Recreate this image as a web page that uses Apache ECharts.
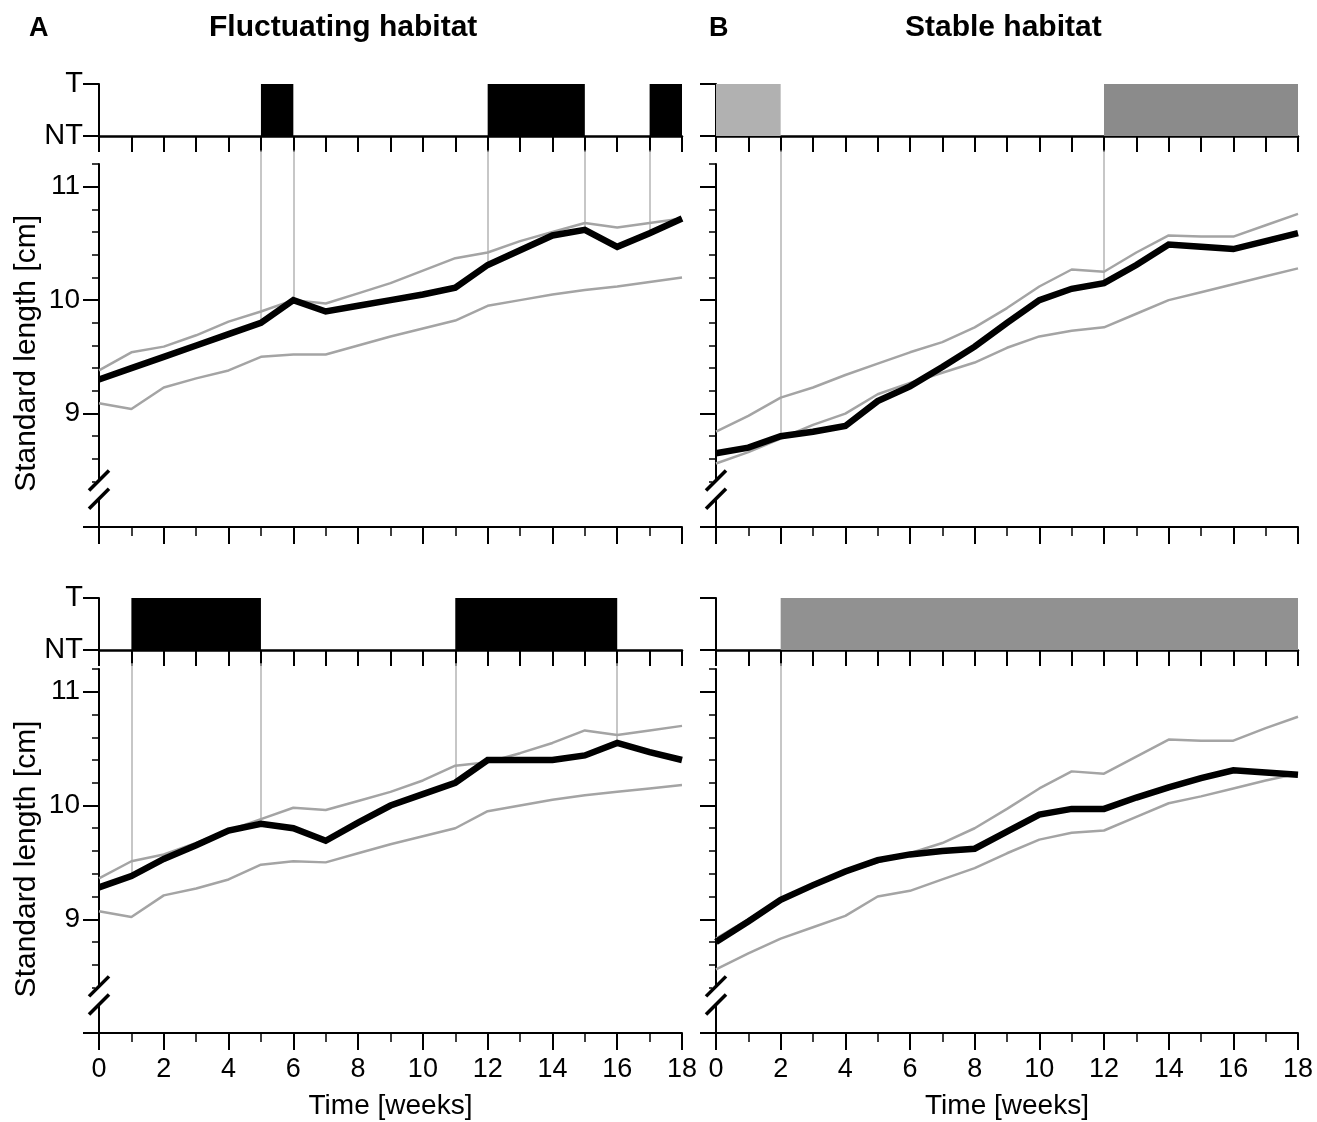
<!DOCTYPE html>
<html>
<head>
<meta charset="utf-8">
<script src="https://cdn.jsdelivr.net/npm/echarts@6/dist/echarts.min.js"></script>
<style>
  body { margin: 0; background: #fff; }
  #main { width: 1317px; height: 1122px; }
</style>
</head>
<body>
<div id="main"></div>
<script>
// weeks on the x axis
var weeks = [0, 1, 2, 3, 4, 5, 6, 7, 8, 9, 10, 11, 12, 13, 14, 15, 16, 17, 18];
var xTickLabels = [0, 2, 4, 6, 8, 10, 12, 14, 16, 18];
var yTickLabels = [9, 10, 11];
var yMajorTicks = [8, 9, 10, 11];
var yMinorTicks = [8.4, 8.6, 8.8, 9.2, 9.4, 9.6, 9.8, 10.2, 10.4, 10.6, 10.8, 11.2];

// A, top: fluctuating habitat
var tlMean  = [9.30, 9.40, 9.50, 9.60, 9.70, 9.80, 10.00, 9.90, 9.95, 10.00, 10.05, 10.11, 10.31, 10.44, 10.57, 10.62, 10.47, 10.59, 10.72];
var tlUpper = [9.38, 9.54, 9.59, 9.69, 9.81, 9.90, 10.00, 9.97, 10.06, 10.15, 10.26, 10.37, 10.42, 10.52, 10.60, 10.68, 10.64, 10.68, 10.72];
var tlLower = [9.09, 9.04, 9.23, 9.31, 9.38, 9.50, 9.52, 9.52, 9.60, 9.68, 9.75, 9.82, 9.95, 10.00, 10.05, 10.09, 10.12, 10.16, 10.20];
var tlBars  = [[5, 6], [12, 15], [17, 18]];

// A, bottom
var blMean  = [9.28, 9.38, 9.53, 9.65, 9.78, 9.84, 9.80, 9.69, 9.85, 10.00, 10.10, 10.20, 10.40, 10.40, 10.40, 10.44, 10.55, 10.47, 10.40];
var blUpper = [9.36, 9.51, 9.57, 9.67, 9.78, 9.88, 9.98, 9.96, 10.04, 10.12, 10.22, 10.35, 10.38, 10.46, 10.55, 10.66, 10.62, 10.66, 10.70];
var blLower = [9.07, 9.02, 9.21, 9.27, 9.35, 9.48, 9.51, 9.50, 9.58, 9.66, 9.73, 9.80, 9.95, 10.00, 10.05, 10.09, 10.12, 10.15, 10.18];
var blBars  = [[1, 5], [11, 16]];

// B, top: stable habitat
var trMean  = [8.65, 8.70, 8.80, 8.84, 8.89, 9.11, 9.24, 9.41, 9.59, 9.80, 10.00, 10.10, 10.15, 10.31, 10.49, 10.47, 10.45, 10.52, 10.59];
var trUpper = [8.84, 8.98, 9.14, 9.23, 9.34, 9.44, 9.54, 9.63, 9.76, 9.93, 10.12, 10.27, 10.25, 10.42, 10.57, 10.56, 10.56, 10.66, 10.76];
var trLower = [8.56, 8.66, 8.78, 8.90, 9.00, 9.17, 9.27, 9.36, 9.45, 9.58, 9.68, 9.73, 9.76, 9.88, 10.00, 10.07, 10.14, 10.21, 10.28];
var trBars  = [[0, 2], [12, 18]];

// B, bottom
var brMean  = [8.80, 8.98, 9.17, 9.30, 9.42, 9.52, 9.57, 9.60, 9.62, 9.77, 9.92, 9.97, 9.97, 10.07, 10.16, 10.24, 10.31, 10.29, 10.27];
var brUpper = [8.83, 9.00, 9.17, 9.30, 9.41, 9.50, 9.58, 9.67, 9.80, 9.97, 10.15, 10.30, 10.28, 10.43, 10.58, 10.57, 10.57, 10.68, 10.78];
var brLower = [8.56, 8.70, 8.83, 8.93, 9.03, 9.20, 9.25, 9.35, 9.45, 9.58, 9.70, 9.76, 9.78, 9.90, 10.02, 10.08, 10.15, 10.22, 10.28];
var brBars  = [[2, 18]];

var font = '"Liberation Sans", Arial, Helvetica, sans-serif';

var panels = [
  { left: 99,  width: 583, sTop: 84,  mTop: 164, mH: 363, connTop: 11.32, mean: tlMean, upper: tlUpper, lower: tlLower, bars: tlBars, fills: ['#000', '#000', '#000'], yLab: true,  xLab: false },
  { left: 716, width: 582, sTop: 84,  mTop: 164, mH: 363, connTop: 11.32, mean: trMean, upper: trUpper, lower: trLower, bars: trBars, fills: ['#b1b1b1', '#8b8b8b'], yLab: false, xLab: false },
  { left: 99,  width: 583, sTop: 598, mTop: 669, mH: 364, connTop: 11.25, mean: blMean, upper: blUpper, lower: blLower, bars: blBars, fills: ['#000', '#000'], yLab: true,  xLab: true },
  { left: 716, width: 582, sTop: 598, mTop: 669, mH: 364, connTop: 11.25, mean: brMean, upper: brUpper, lower: brLower, bars: brBars, fills: ['#919191'], yLab: false, xLab: true }
];

var chartDom = document.getElementById('main');
var myChart = echarts.init(chartDom);

var grid = [], xAxis = [], yAxis = [], series = [];

panels.forEach(function (p, i) {
  // strip (T / NT)
  grid.push({ left: p.left, top: p.sTop, width: p.width, height: 52 });
  // main plot
  grid.push({ left: p.left, top: p.mTop, width: p.width, height: p.mH });

  xAxis.push({
    type: 'value', gridIndex: 2 * i, min: 0, max: 18, interval: 1,
    axisLine: { show: true, onZero: false, lineStyle: { color: '#000', width: 2.5 } },
    axisTick: { show: true, length: 16, lineStyle: { color: '#000', width: 2 } },
    axisLabel: { show: false }, splitLine: { show: false }
  });
  xAxis.push({
    type: 'value', gridIndex: 2 * i + 1, min: 0, max: 18, interval: 2,
    axisLine: { show: true, onZero: false, lineStyle: { color: '#000', width: 2 } },
    axisTick: { show: true, length: 17, lineStyle: { color: '#000', width: 2 } },
    minorTick: { show: true, splitNumber: 2, length: 9, lineStyle: { color: '#000', width: 1.5 } },
    axisLabel: { show: p.xLab, fontSize: 27, color: '#000', fontFamily: font, margin: 23,
      customValues: xTickLabels },
    splitLine: { show: false }, minorSplitLine: { show: false },
    name: p.xLab ? 'Time [weeks]' : '', nameLocation: 'middle', nameGap: 59,
    nameTextStyle: { fontSize: 28, color: '#000', fontFamily: font }
  });

  yAxis.push({
    type: 'value', gridIndex: 2 * i, min: 0, max: 1, interval: 1,
    axisLine: { show: true, onZero: false, lineStyle: { color: '#000', width: 2 } },
    axisTick: { show: true, length: 16, lineStyle: { color: '#000', width: 2 } },
    axisLabel: { show: p.yLab, fontSize: 29, color: '#000', fontFamily: font, margin: 16,
      formatter: function (v) { return v === 1 ? 'T' : (v === 0 ? 'NT' : ''); } },
    splitLine: { show: false }
  });
  yAxis.push({
    type: 'value', gridIndex: 2 * i + 1, min: 8, max: 11.2,
    axisLine: { show: true, onZero: false, lineStyle: { color: '#000', width: 2 } },
    axisTick: { show: true, length: 16, customValues: yMajorTicks, lineStyle: { color: '#000', width: 2 } },
    axisLabel: { show: p.yLab, fontSize: 28, color: '#000', fontFamily: font, margin: 19,
      customValues: yTickLabels },
    splitLine: { show: false }
  });
  yAxis.push({
    type: 'value', gridIndex: 2 * i + 1, min: 8, max: 11.2, position: 'left',
    axisLine: { show: false, onZero: false },
    axisTick: { show: true, length: 7, customValues: yMinorTicks, lineStyle: { color: '#000', width: 1.5 } },
    axisLabel: { show: false }, splitLine: { show: false }
  });

  // T / NT blocks
  series.push({
    type: 'custom', xAxisIndex: 2 * i, yAxisIndex: 3 * i, z: 1,
    data: p.bars.map(function (b, k) { return { value: b, itemStyle: { color: p.fills[k] } }; }),
    renderItem: function (params, api) {
      var a = api.coord([api.value(0), 0]);
      var b = api.coord([api.value(1), 1]);
      return { type: 'rect', shape: { x: a[0], y: b[1], width: b[0] - a[0], height: a[1] - b[1] },
        style: { fill: api.visual('color') } };
    }
  });

  // thin connectors from block edges down to the mean line
  var edges = [];
  p.bars.forEach(function (b) {
    b.forEach(function (e) { if (e > 0 && e < 18 && edges.indexOf(e) < 0) edges.push(e); });
  });
  series.push({
    type: 'lines', coordinateSystem: 'cartesian2d', xAxisIndex: 2 * i + 1, yAxisIndex: 3 * i + 1,
    clip: false, silent: true, z: 1,
    lineStyle: { color: '#b4b4b4', width: 1.5, opacity: 1 },
    data: edges.map(function (e) { return { coords: [[e, p.connTop], [e, p.mean[weeks.indexOf(e)]]] }; })
  });

  [p.upper, p.lower].forEach(function (arr) {
    series.push({
      type: 'line', xAxisIndex: 2 * i + 1, yAxisIndex: 3 * i + 1, z: 2,
      symbol: 'none', silent: true,
      lineStyle: { color: '#a4a4a4', width: 2.5 },
      data: weeks.map(function (w, k) { return [w, arr[k]]; })
    });
  });
  series.push({
    type: 'line', xAxisIndex: 2 * i + 1, yAxisIndex: 3 * i + 1, z: 3,
    symbol: 'none', silent: true,
    lineStyle: { color: '#000', width: 6.5, join: 'miter' },
    data: weeks.map(function (w, k) { return [w, p.mean[k]]; })
  });
});

var titleStyle = { fill: '#000', fontFamily: font, fontWeight: 'bold', textVerticalAlign: 'middle' };
var option = {
  animation: false,
  backgroundColor: '#fff',
  grid: grid,
  xAxis: xAxis,
  yAxis: yAxis,
  series: series,
  graphic: [
    { type: 'text', x: 29, y: 29, style: Object.assign({ text: 'A', fontSize: 27 }, titleStyle) },
    { type: 'text', x: 209, y: 28, style: Object.assign({ text: 'Fluctuating habitat', fontSize: 30 }, titleStyle) },
    { type: 'text', x: 709, y: 29, style: Object.assign({ text: 'B', fontSize: 27 }, titleStyle) },
    { type: 'text', x: 905, y: 28, style: Object.assign({ text: 'Stable habitat', fontSize: 30 }, titleStyle) }
  ]
};

option && myChart.setOption(option);

// axis breaks and rotated y titles
var extra = [];
panels.forEach(function (p, i) {
  var hi = myChart.convertToPixel({ gridIndex: 2 * i + 1 }, [0, 8.41]);
  var lo = myChart.convertToPixel({ gridIndex: 2 * i + 1 }, [0, 8.25]);
  var x = hi[0];
  extra.push({ type: 'rect', shape: { x: x - 4, y: hi[1] + 1, width: 8, height: lo[1] - hi[1] - 2 },
    style: { fill: '#fff' }, z: 100 });
  [hi, lo].forEach(function (pt) {
    extra.push({ type: 'line', shape: { x1: x - 10, y1: pt[1] + 10, x2: x + 10, y2: pt[1] - 10 },
      style: { stroke: '#000', lineWidth: 3.5 }, z: 101 });
  });
  if (p.yLab) {
    var mid = myChart.convertToPixel({ gridIndex: 2 * i + 1 }, [0, 9.53]);
    extra.push({ type: 'text', x: 27, y: mid[1], rotation: Math.PI / 2,
      style: { text: 'Standard length [cm]', fontSize: 30, fill: '#000', fontFamily: font,
        textAlign: 'center', textVerticalAlign: 'middle' }, z: 100 });
  }
});
myChart.setOption({ graphic: option.graphic.concat(extra) });
</script>
</body>
</html>
